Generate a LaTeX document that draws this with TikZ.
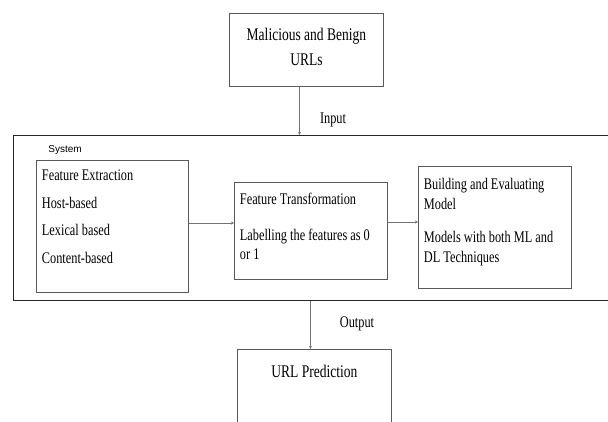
\documentclass[tikz,border=0pt]{standalone}
\usepackage{fontspec}
\setmainfont{Liberation Serif}[FakeStretch=0.76]
\setsansfont{Liberation Sans}
\usetikzlibrary{arrows.meta}

\definecolor{boxgray}{gray}{0.35}
\definecolor{linegray}{gray}{0.45}

\newcommand{\boxtext}[3]{\parbox[t][#2][t]{#1}{#3}}

\tikzset{
  box/.style={draw=boxgray, line width=0.9pt, anchor=north west,
    inner xsep=5.5pt, inner ysep=0pt, font=\fontsize{16.2}{19}\selectfont},
  bigbox/.style={box, font=\fontsize{17.8}{25}\selectfont},
  outer/.style={draw=black!85, line width=1.4pt, anchor=north west, inner sep=0pt},
  conn/.style={draw=linegray, line width=0.8pt, -{Stealth[length=3pt,width=3pt]}},
  lbl/.style={font=\fontsize{16.2}{19}\selectfont, inner sep=0pt}
}

\begin{document}
\begin{tikzpicture}[x=1pt, y=-1pt]
  \clip (0,0) rectangle (608,421);

  \node[outer, minimum width=620pt, minimum height=165pt] (system) at (12.5,135) {};
  \node[font=\sffamily\fontsize{10}{12}\selectfont, inner sep=0pt] (syslabel) at (65,150.5) {System};

  \begin{scope}[every node/.style={bigbox}]
    \node (urls)    at (229,13)  {\boxtext{143pt}{73pt}{\centering\setlength{\baselineskip}{25pt}%
      \rule{0pt}{27pt}Malicious and Benign\\URLs}};
    \node (predict) at (237,349) {\boxtext{143pt}{120pt}{\centering
      \rule{0pt}{28pt}URL Prediction}};
  \end{scope}

  \begin{scope}[every node/.style={box}]
    \node (extract)   at (36,160)  {\boxtext{141pt}{132pt}{\setlength{\baselineskip}{27.7pt}%
      \rule{0pt}{20pt}Feature Extraction\\Host-based\\Lexical based\\Content-based}};
    \node (transform) at (234,182) {\boxtext{142pt}{97pt}{\setlength{\baselineskip}{19pt}%
      \rule{0pt}{22pt}Feature Transformation\\[17pt]Labelling the features as 0\\or 1}};
    \node (model)     at (418,166) {\boxtext{142pt}{122pt}{\setlength{\baselineskip}{20pt}%
      \rule{0pt}{23pt}Building and Evaluating\\Model\\[13pt]Models with both ML and\\DL Techniques}};
  \end{scope}

  \node[lbl] (input)  at (333,119.5) {Input};
  \node[lbl] (output) at (357,323.5) {Output};

  \draw[conn] ([xshift=-7pt]urls.south) -- ([xshift=-7pt]urls.south |- system.north);
  \draw[conn] (extract.east |- 0,223) -- (transform.west |- 0,223);
  \draw[conn] (transform.east |- 0,222) -- (model.west |- 0,222);
  \draw[conn] ([xshift=-4pt]predict.north |- system.south) -- ([xshift=-4pt]predict.north);

\end{tikzpicture}
\end{document}
